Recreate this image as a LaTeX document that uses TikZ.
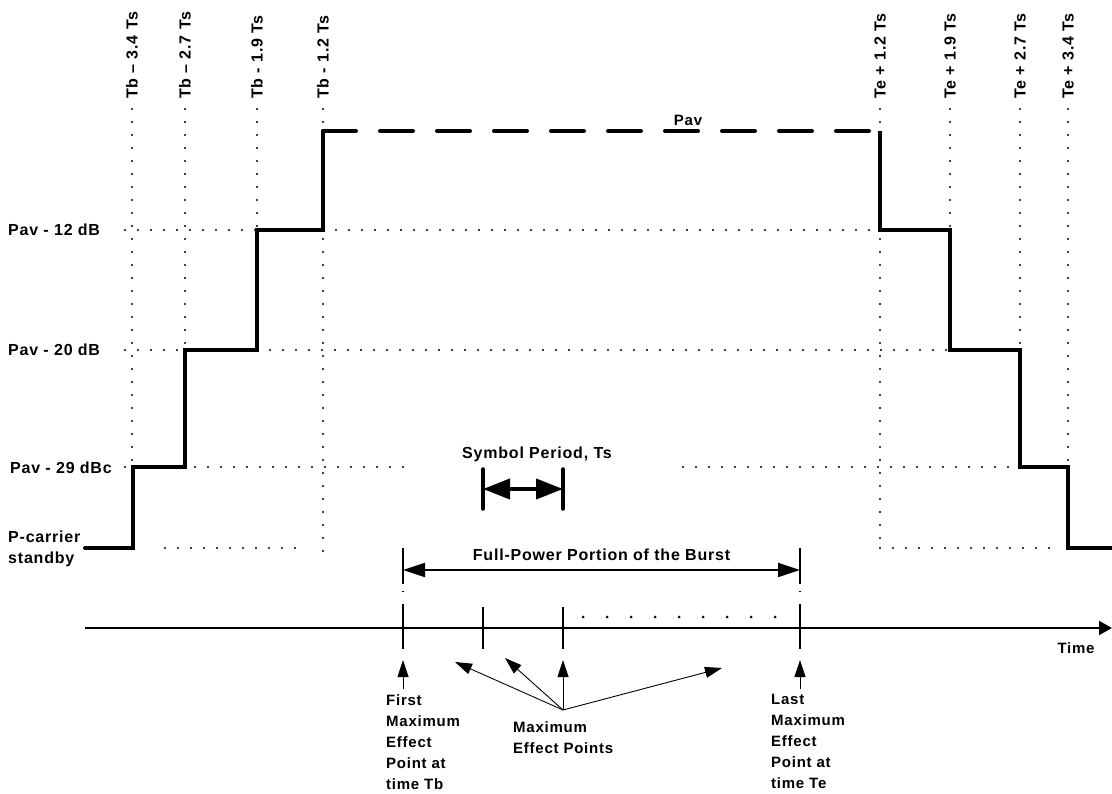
\documentclass[tikz,border=0pt]{standalone}
\usepackage{fontspec}
\setmainfont{Liberation Sans}[LetterSpace=5]
\usepackage{tikz}
\usetikzlibrary{arrows.meta,positioning}

\begin{document}
\begin{tikzpicture}[x=1pt,y=-1pt,
		lbl/.style={font=\fontsize{16}{18}\selectfont\bfseries,inner sep=0pt},
		toplbl/.style={lbl,rotate=90,anchor=west},
		dotline/.style={line width=2.1pt,line cap=round,dash pattern=on 0pt off 13pt},
		pwr/.style={line width=4pt},
		tick/.style={line width=2.5pt},
		thinarr/.style={line width=0.9pt,-{Triangle[length=17pt,width=11pt]}},
		note/.style={font=\fontsize{15}{21}\selectfont\bfseries,inner sep=0pt,align=left,anchor=north west}]
	\useasboundingbox (0,0) rectangle (1112,794);
	% time marks on top, with their guide lines
	\foreach \x/\t/\e [count=\i] in {132/{Tb \textendash{} 3.4 Ts}/467,185/{Tb \textendash{} 2.7 Ts}/350,257/{Tb - 1.9 Ts}/230,323/{Tb - 1.2 Ts}/560,880/{Te + 1.2 Ts}/548,950/{Te + 1.9 Ts}/230,1020/{Te + 2.7 Ts}/350,1068/{Te + 3.4 Ts}/467}
	{
		\node[toplbl] (t\i) at (\x,99) {\t};
		\draw[dotline] ([yshift=-10pt]t\i.west) -- (\x,\e);
	}
	% power levels
	\node[lbl,anchor=west] (p12) at (8,230) {Pav - 12 dB};
	\node[lbl,anchor=west] (p20) at (8,350) {Pav - 20 dB};
	\node[lbl,anchor=west] (p29) at (10,468) {Pav - 29 dBc};
	\node[lbl,anchor=west,align=left,font=\fontsize{16}{21}\selectfont\bfseries] (psb) at (8,549) {P-carrier\\standby};
	\foreach \y/\a/\b in {230/125/257,230/336/880,350/125/185,350/270/950,467/125/133,467/195/405,467/683/1020,548/165/300,548/880/1055}
	\draw[dotline] (\a,\y) -- (\b,\y);
	% the burst
	\draw[pwr,line cap=round] (85,548) -| (133,467) -| (185,350) -| (257,230) -| (323,131);
	\draw[pwr,line cap=round,dash pattern=on 33pt off 24pt] (323,131) -- (880,131);
	\draw[pwr] (880,131) |- (950,230) |- (1020,350) |- (1068,467) |- (1112,548);
	\node[lbl,font=\fontsize{15}{18}\selectfont\bfseries] (pav) at (688,120) {Pav};
	% symbol period
	\coordinate (sp0) at (483,489);
	\coordinate (sp1) at (563,489);
	\foreach \s in {sp0,sp1}
	\draw[line width=3.5pt,line cap=round] ([yshift=20pt]\s) -- ([yshift=-20pt]\s);
	\draw[line width=4pt,{Triangle[length=27pt,width=20pt]}-{Triangle[length=27pt,width=20pt]}] (sp0) -- (sp1);
	\node[lbl] (sp) at (537,454) {Symbol Period, Ts};
	% time axis
	\coordinate (ax0) at (85,628);
	\coordinate (ax1) at (1112,628);
	\draw[line width=2pt,-{Triangle[length=13pt,width=14pt]}] (ax0) -- (ax1);
	\node[lbl,font=\fontsize{15}{18}\selectfont\bfseries] (time) at (1076,648) {Time};
	\foreach \n/\x in {m0/403,m1/483,m2/563,m3/800}
	\coordinate (\n) at (\x,628);
	\foreach \n in {m1,m2}
	\draw[tick] ([yshift=21pt]\n) -- ([yshift=-21pt]\n);
	\foreach \n in {m0,m3}
	\draw[tick,dash pattern=on 36pt off 7pt on 1pt off 12pt on 60pt] ([yshift=80pt]\n) -- ([yshift=-21pt]\n);
	\foreach \x in {0,...,8}
	\fill (583+24*\x,617) circle (1.5pt);
	% full power portion
	\coordinate (fpa) at (403,570);
	\coordinate (fpb) at (800,570);
	\draw[line width=2pt,{Triangle[length=22pt,width=14pt]}-{Triangle[length=22pt,width=14pt]}] (fpa) -- node[lbl,above=8pt] (fp) {Full-Power Portion of the Burst} (fpb);
	% maximum effect points
	\node[note] (first) at (386,694) {First\\Maximum\\Effect\\Point at\\time Tb};
	\node[note] (maxp) at (513,721) {Maximum\\Effect Points};
	\node[note] (last) at (771,694) {Last\\Maximum\\Effect\\Point at\\time Te};
	\draw[thinarr,shorten <=5pt] (first.north -| m0) -- ([yshift=-32pt]m0);
	\draw[thinarr,shorten <=5pt] (last.north -| m3) -- ([yshift=-32pt]m3);
	\coordinate (mo) at ([yshift=11pt]maxp.north -| m2);
	\coordinate (pA) at (455,662);
	\coordinate (pB) at (505,658);
	\coordinate (pC) at (722,668);
	\foreach \p in {pA,pB,pC}
	\draw[thinarr] (mo) -- (\p);
	\draw[thinarr] (mo) -- ([yshift=-32pt]m2);
\end{tikzpicture}
\end{document}
